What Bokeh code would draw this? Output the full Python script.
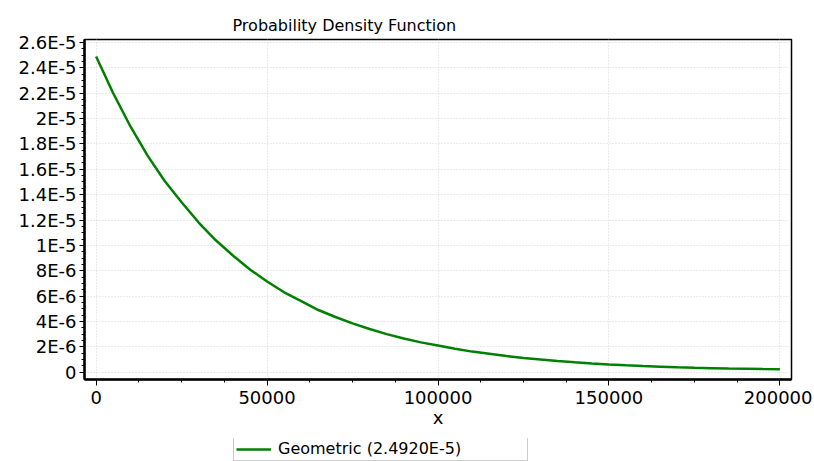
from bokeh.plotting import figure
from bokeh.layouts import column
from bokeh.models import Range1d, FixedTicker, CustomJSTickFormatter, Legend, LegendItem
from bokeh.embed import file_html
from bokeh.resources import INLINE

# ---- data ----
x_values = [0, 5000, 10000, 15000, 20000, 25000, 30000, 35000, 40000, 45000,
            50000, 55000, 60000, 65000, 70000, 75000, 80000, 85000, 90000, 95000,
            100000, 105000, 110000, 115000, 120000, 125000, 130000, 135000, 140000, 145000,
            150000, 155000, 160000, 165000, 170000, 175000, 180000, 185000, 190000, 195000,
            200000]
pdf_values = [2.49e-5, 2.20e-5, 1.94e-5, 1.71e-5, 1.51e-5, 1.34e-5, 1.18e-5, 1.04e-5, 9.2e-6, 8.1e-6,
              7.15e-6, 6.3e-6, 5.6e-6, 4.9e-6, 4.35e-6, 3.85e-6, 3.4e-6, 3.0e-6, 2.65e-6, 2.35e-6,
              2.1e-6, 1.85e-6, 1.62e-6, 1.45e-6, 1.27e-6, 1.12e-6, 1.0e-6, 0.88e-6, 0.78e-6, 0.69e-6,
              0.61e-6, 0.54e-6, 0.48e-6, 0.43e-6, 0.38e-6, 0.34e-6, 0.31e-6, 0.28e-6, 0.26e-6, 0.24e-6,
              0.23e-6]

x_ticks = [0, 50000, 100000, 150000, 200000]
x_tick_labels = ["0", "50000", "100000", "150000", "200000"]
y_ticks = [0, 2e-6, 4e-6, 6e-6, 8e-6, 1e-5, 1.2e-5, 1.4e-5, 1.6e-5, 1.8e-5,
           2e-5, 2.2e-5, 2.4e-5, 2.6e-5]
y_tick_labels = ["0", "2E-6", "4E-6", "6E-6", "8E-6", "1E-5", "1.2E-5", "1.4E-5",
                 "1.6E-5", "1.8E-5", "2E-5", "2.2E-5", "2.4E-5", "2.6E-5"]

title_text = "Probability Density Function"
x_label = "x"
series_name = "Geometric (2.4920E-5)"

FONT = "DejaVu Sans"
GREEN = "#008000"
W = 812

x_minor = [x_ticks[i] + k * (x_ticks[1] - x_ticks[0]) / 4
           for i in range(len(x_ticks) - 1) for k in range(1, 4)]
y_minor = [y_ticks[i] + k * (y_ticks[1] - y_ticks[0]) / 4
           for i in range(len(y_ticks) - 1) for k in range(1, 4)]

lookup = """
let best = 0;
for (let i = 0; i < tvals.length; i++) {
  if (Math.abs(tvals[i] - tick) < Math.abs(tvals[best] - tick)) best = i;
}
return tlabels[best];
"""

p = figure(width=W, height=438,
           x_range=Range1d(-3400, 203400), y_range=Range1d(-5.8e-7, 2.624e-5),
           output_backend="svg", toolbar_location=None,
           min_border_left=84, min_border_right=W - 791, min_border_top=39, min_border_bottom=59,
           title=title_text)

p.title.text_font = FONT
p.title.text_font_size = "16px"
p.title.text_font_style = "normal"
p.title.align = "left"
p.title.offset = 148
p.title.standoff = 9
p.title.text_color = "black"

p.background_fill_color = "white"
p.border_fill_color = "white"
p.outline_line_color = "black"
p.outline_line_width = 1.5

# axes
p.xaxis.ticker = FixedTicker(ticks=x_ticks, minor_ticks=x_minor)
p.yaxis.ticker = FixedTicker(ticks=y_ticks, minor_ticks=y_minor)
p.xaxis.formatter = CustomJSTickFormatter(args=dict(tvals=x_ticks, tlabels=x_tick_labels), code=lookup)
p.yaxis.formatter = CustomJSTickFormatter(args=dict(tvals=y_ticks, tlabels=y_tick_labels), code=lookup)

for ax in (p.xaxis, p.yaxis):
    ax.axis_line_color = "black"
    ax.axis_line_width = 2.5
    ax.major_tick_line_color = "black"
    ax.minor_tick_line_color = "black"
    ax.major_tick_in = 0
    ax.minor_tick_in = 0
    ax.major_label_text_font = FONT
    ax.major_label_text_font_size = "18px"
    ax.major_label_text_color = "black"

p.xaxis.major_tick_out = 6
p.xaxis.minor_tick_out = 3
p.yaxis.major_tick_out = 5
p.yaxis.minor_tick_out = 3
p.xaxis.major_label_standoff = 5
p.yaxis.major_label_standoff = 3

p.xaxis.axis_label = x_label
p.xaxis.axis_label_text_font = FONT
p.xaxis.axis_label_text_font_size = "18px"
p.xaxis.axis_label_text_font_style = "normal"
p.xaxis.axis_label_text_color = "black"
p.xaxis.axis_label_standoff = 0

# grid
for g in (p.xgrid, p.ygrid):
    g.grid_line_color = "#d4d4d4"
    g.grid_line_dash = "1 2"
    g.grid_line_width = 1

r = p.line(x_values, pdf_values, line_color=GREEN, line_width=2.5)

# legend strip below the chart (its series lies outside this strip's view)
p2 = figure(width=W, height=461 - 438, x_range=Range1d(-2, -1), y_range=Range1d(-2, -1),
            output_backend="svg", toolbar_location=None,
            x_axis_type=None, y_axis_type=None,
            min_border=0, min_border_left=84, min_border_right=W - 791,
            min_border_top=0, min_border_bottom=0)
p2.outline_line_color = None
p2.xgrid.visible = False
p2.ygrid.visible = False
p2.background_fill_color = "white"
p2.border_fill_color = "white"
legend_line = p2.line(x_values, pdf_values, line_color=GREEN, line_width=2.5)

legend = Legend(items=[LegendItem(label=series_name, renderers=[legend_line])],
                location=(149, 0),
                label_text_font=FONT, label_text_font_size="16px", label_text_color="black",
                glyph_width=35, glyph_height=16, label_height=16, label_standoff=7,
                label_width=247, padding=2, margin=0, spacing=0,
                border_line_color="#999999", border_line_width=1,
                background_fill_color="white", background_fill_alpha=1)
p2.add_layout(legend)

layout = column(p, p2, spacing=0)
open("out.html", "w").write(file_html(layout, INLINE))
